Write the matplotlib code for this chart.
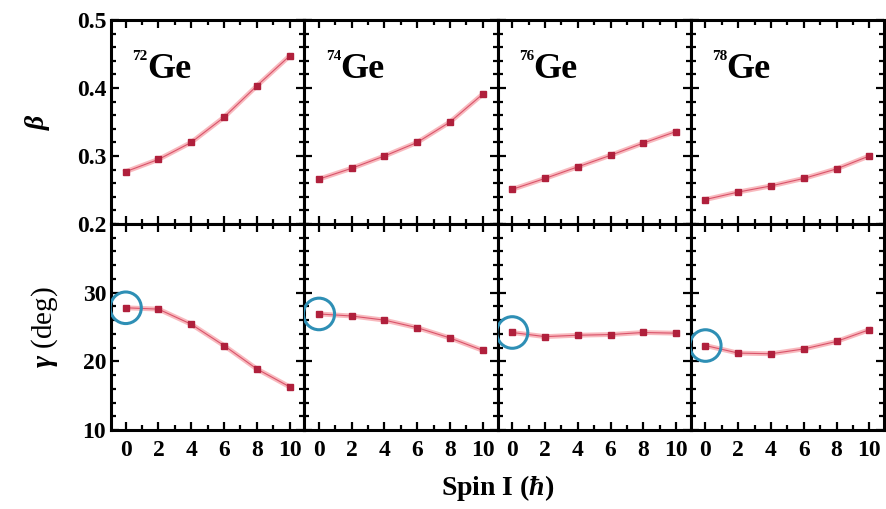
import matplotlib
matplotlib.use("Agg")
import matplotlib.pyplot as plt
from matplotlib.patches import Ellipse
from matplotlib.ticker import MultipleLocator

plt.rcParams["font.family"] = ["Liberation Serif", "DejaVu Serif"]
plt.rcParams["font.weight"] = "bold"
plt.rcParams["mathtext.fontset"] = "custom"
plt.rcParams["mathtext.rm"] = "Liberation Serif:bold"
plt.rcParams["mathtext.it"] = "Liberation Serif:italic:bold"
plt.rcParams["mathtext.bf"] = "Liberation Serif:bold"

spin = [0, 2, 4, 6, 8, 10]
nuclei = ["72", "74", "76", "78"]
beta = {
    "72": [0.277, 0.295, 0.320, 0.357, 0.403, 0.447],
    "74": [0.266, 0.282, 0.300, 0.320, 0.350, 0.391],
    "76": [0.251, 0.267, 0.284, 0.301, 0.319, 0.336],
    "78": [0.236, 0.247, 0.256, 0.267, 0.281, 0.300],
}
gamma = {
    "72": [27.8, 27.6, 25.4, 22.3, 18.9, 16.3],
    "74": [26.9, 26.6, 26.0, 24.9, 23.4, 21.6],
    "76": [24.2, 23.6, 23.8, 23.9, 24.2, 24.1],
    "78": [22.3, 21.2, 21.1, 21.8, 22.9, 24.6],
}

fig = plt.figure(figsize=(8.86, 5.09), dpi=100)
x0, x1 = 111 / 886, 884 / 886
yt, ym, yb = 1 - 20 / 509, 1 - 224 / 509, 1 - 430 / 509
w = (x1 - x0) / 4


def style(ax):
    ax.set_xlim(-0.9, 10.9)
    ax.xaxis.set_major_locator(MultipleLocator(2))
    ax.xaxis.set_minor_locator(MultipleLocator(1))
    ax.tick_params(which="both", direction="in", top=True, right=True,
                   width=1.6, labelsize=17)
    ax.tick_params(which="major", length=6)
    ax.tick_params(which="minor", length=3.5)
    ax.tick_params(axis="x", pad=7)
    for s in ax.spines.values():
        s.set_linewidth(2.2)


def draw(ax, y):
    ax.plot(spin, y, color="#f7a8ae", lw=3.5, alpha=0.8, zorder=2)
    ax.plot(spin, y, color="#d9536a", lw=0.8, zorder=3)
    ax.plot(spin, y, "s", color="#b0203c", ms=4, zorder=4)


for i, n in enumerate(nuclei):
    ax = fig.add_axes([x0 + i * w, ym, w, yt - ym])
    draw(ax, beta[n])
    style(ax)
    ax.set_ylim(0.2, 0.5)
    ax.yaxis.set_major_locator(MultipleLocator(0.1))
    ax.yaxis.set_minor_locator(MultipleLocator(0.02))
    ax.tick_params(labelbottom=False)
    ax.text(0.185, 0.84, "Ge", transform=ax.transAxes,
            fontsize=26, fontweight="bold", va="top", ha="left")
    ax.text(0.19, 0.855, n, transform=ax.transAxes,
            fontsize=11, fontweight="bold", va="top", ha="right")
    if i == 0:
        ax.set_ylabel(r"$\beta$", fontsize=20, labelpad=18)
    else:
        ax.tick_params(labelleft=False)

    bx = fig.add_axes([x0 + i * w, yb, w, ym - yb])
    draw(bx, gamma[n])
    style(bx)
    bx.set_ylim(10, 40)
    bx.set_yticks([10, 20, 30])
    bx.yaxis.set_minor_locator(MultipleLocator(2))
    bx.add_patch(Ellipse((spin[0], gamma[n][0]), 1.9, 4.6, fill=False,
                         edgecolor="#2e8fb5", lw=2.2, zorder=5))
    if i == 0:
        bx.set_ylabel(r"$\gamma$ (deg)", fontsize=21, labelpad=16)
    else:
        bx.tick_params(labelleft=False)

fig.text((x0 + x1) / 2, 0.012, r"Spin I ($\hbar$)", ha="center", va="bottom",
         fontsize=20, fontweight="bold")

fig.savefig("out.png", dpi=100)
